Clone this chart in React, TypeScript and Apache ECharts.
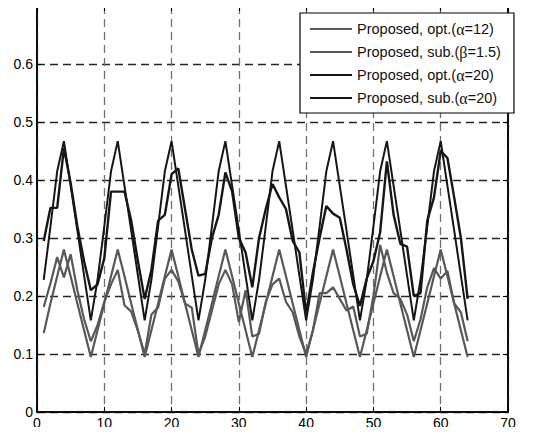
import React, { useEffect, useRef } from "react";
import * as echarts from "echarts";

// Subcarrier index 1..64
const subcarrierCount = 64;

const seriesNames = [
  "Proposed, opt.(α=12)",
  "Proposed, sub.(β=1.5)",
  "Proposed, opt.(α=20)",
  "Proposed, sub.(α=20)",
];

const optAlpha12 = [
  0.136, 0.187, 0.234, 0.28, 0.234, 0.187, 0.141, 0.095,
  0.141, 0.187, 0.234, 0.28, 0.234, 0.187, 0.141, 0.095,
  0.141, 0.187, 0.234, 0.28, 0.234, 0.187, 0.141, 0.095,
  0.141, 0.187, 0.234, 0.28, 0.234, 0.187, 0.141, 0.095,
  0.141, 0.187, 0.234, 0.28, 0.234, 0.187, 0.141, 0.095,
  0.141, 0.187, 0.234, 0.28, 0.234, 0.187, 0.141, 0.095,
  0.141, 0.187, 0.234, 0.28, 0.234, 0.187, 0.141, 0.095,
  0.141, 0.187, 0.234, 0.28, 0.234, 0.187, 0.141, 0.095,
];

const subBeta15 = [
  0.181, 0.222, 0.267, 0.232, 0.272, 0.21, 0.16, 0.122,
  0.15, 0.19, 0.22, 0.245, 0.184, 0.173, 0.14, 0.1,
  0.168, 0.18, 0.23, 0.245, 0.225, 0.187, 0.18, 0.1,
  0.13, 0.175, 0.22, 0.245, 0.22, 0.155, 0.21, 0.13,
  0.135, 0.19, 0.22, 0.23, 0.19, 0.172, 0.13, 0.1,
  0.14, 0.205, 0.205, 0.215, 0.195, 0.175, 0.182, 0.13,
  0.135, 0.2, 0.288, 0.24, 0.205, 0.195, 0.168, 0.122,
  0.16, 0.215, 0.248, 0.23, 0.243, 0.187, 0.172, 0.122,
];

const optAlpha20 = [
  0.228, 0.32, 0.415, 0.467, 0.39, 0.313, 0.235, 0.158,
  0.228, 0.32, 0.415, 0.467, 0.39, 0.313, 0.235, 0.158,
  0.228, 0.32, 0.415, 0.467, 0.39, 0.313, 0.235, 0.158,
  0.228, 0.32, 0.415, 0.467, 0.39, 0.313, 0.235, 0.158,
  0.228, 0.32, 0.415, 0.467, 0.39, 0.313, 0.235, 0.158,
  0.228, 0.32, 0.415, 0.467, 0.39, 0.313, 0.235, 0.158,
  0.228, 0.32, 0.415, 0.467, 0.39, 0.313, 0.235, 0.158,
  0.228, 0.32, 0.415, 0.467, 0.39, 0.313, 0.235, 0.158,
];

const subAlpha20 = [
  0.295, 0.352, 0.352, 0.455, 0.395, 0.32, 0.26, 0.21,
  0.22, 0.265, 0.38, 0.38, 0.38, 0.33, 0.26, 0.195,
  0.245, 0.33, 0.34, 0.41, 0.42, 0.35, 0.28, 0.235,
  0.238, 0.3, 0.34, 0.413, 0.38, 0.3, 0.275, 0.215,
  0.3, 0.35, 0.393, 0.37, 0.35, 0.295, 0.275, 0.17,
  0.24, 0.3, 0.355, 0.342, 0.335, 0.28, 0.22, 0.183,
  0.23, 0.26, 0.31, 0.432, 0.34, 0.29, 0.285, 0.2,
  0.205, 0.33, 0.37, 0.45, 0.438, 0.37, 0.3, 0.195,
];

const xTicks = [0, 10, 20, 30, 40, 50, 60, 70];
const yTicks = [0, 0.1, 0.2, 0.3, 0.4, 0.5, 0.6, 0.7];

const grayLine = "#585858";
const blackLine = "#161616";

function pairs(values: number[]) {
  return values.slice(0, subcarrierCount).map((v, i) => [i + 1, v]);
}

export default function App() {
  const ref = useRef<HTMLDivElement>(null);

  useEffect(() => {
    if (!ref.current) return;
    const chart = echarts.init(ref.current, undefined, { renderer: "svg" });
    const font = "'Liberation Sans', Arial, sans-serif";

    const seriesData = [optAlpha12, subBeta15, optAlpha20, subAlpha20];
    const colors = [grayLine, grayLine, blackLine, blackLine];
    const widths = [2.2, 2.2, 2, 2.4];

    const frameAxis = { show: true, onZero: false, lineStyle: { color: "#000", width: 1.6 } };
    const frameTick = { show: true, inside: true, length: 5, lineStyle: { color: "#000" } };

    chart.setOption({
      animation: false,
      backgroundColor: "#fff",
      grid: {
        left: 37,
        right: 28,
        top: 6,
        bottom: 23,
        show: true,
        borderColor: "#000",
        borderWidth: 1.6,
        backgroundColor: "transparent",
      },
      legend: {
        data: seriesNames,
        orient: "vertical",
        left: 300,
        top: 13,
        icon: "rect",
        itemWidth: 42,
        itemHeight: 2,
        itemGap: 7,
        padding: [8, 13, 7, 10],
        backgroundColor: "#fff",
        borderColor: "#000",
        borderWidth: 1.2,
        formatter: (name: string) => name.replace(/([αβ])/g, "{g|$1}"),
        textStyle: {
          fontFamily: font,
          fontSize: 14.5,
          color: "#111",
          rich: {
            g: { fontFamily: "'Liberation Serif', serif", fontSize: 16, color: "#111" },
          },
        },
      },
      xAxis: [
        {
          type: "value",
          min: xTicks[0],
          max: xTicks[xTicks.length - 1],
          interval: 10,
          axisLine: frameAxis,
          axisTick: frameTick,
          axisLabel: { color: "#000", fontFamily: font, fontSize: 14, margin: 4 },
          splitLine: { show: true, lineStyle: { color: "#707070", width: 1.3, type: [8, 5] } },
        },
        {
          type: "value",
          position: "top",
          min: xTicks[0],
          max: xTicks[xTicks.length - 1],
          interval: 10,
          axisLine: frameAxis,
          axisTick: frameTick,
          axisLabel: { show: false },
          splitLine: { show: false },
        },
      ],
      yAxis: [
        {
          type: "value",
          min: yTicks[0],
          max: yTicks[yTicks.length - 1],
          interval: 0.1,
          axisLine: frameAxis,
          axisTick: frameTick,
          axisLabel: {
            color: "#000",
            fontFamily: font,
            fontSize: 14,
            margin: 4,
            formatter: (v: number) => (Math.abs(v - 0.7) < 1e-9 ? "" : String(Math.round(v * 10) / 10)),
          },
          splitLine: { show: true, lineStyle: { color: "#262626", width: 1.3, type: [8, 5] } },
        },
        {
          type: "value",
          position: "right",
          min: yTicks[0],
          max: yTicks[yTicks.length - 1],
          interval: 0.1,
          axisLine: frameAxis,
          axisTick: frameTick,
          axisLabel: { show: false },
          splitLine: { show: false },
        },
      ],
      series: seriesNames.map((name, i) => ({
        name,
        type: "line",
        xAxisIndex: 0,
        yAxisIndex: 0,
        data: pairs(seriesData[i]),
        showSymbol: false,
        symbol: "none",
        color: colors[i],
        lineStyle: { color: colors[i], width: widths[i] },
        z: i < 2 ? 2 : 3,
      })),
    });

    return () => chart.dispose();
  }, []);

  return <div ref={ref} style={{ width: 536, height: 435, margin: -8 }} />;
}
